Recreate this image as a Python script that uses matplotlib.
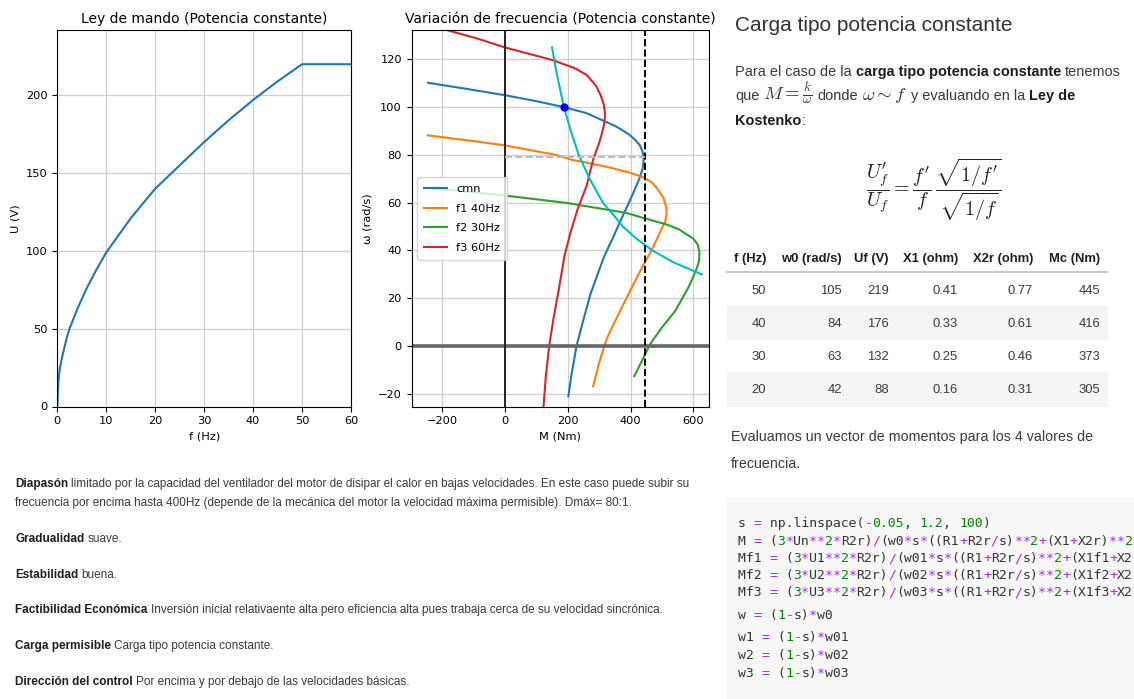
import matplotlib
matplotlib.use("Agg")
import matplotlib.pyplot as plt
from matplotlib.patches import Rectangle
from matplotlib.lines import Line2D
from matplotlib import font_manager

# ---------------- data ----------------
# Ley de mando U(f)
freq_hz = [0, 0.25, 0.5, 1, 2, 2.5, 4, 6, 8, 10, 15, 20, 25, 30, 35, 40, 45, 50, 60]
volt_u = [0, 17, 24, 32, 45, 50, 62, 76, 88, 99, 121, 140, 155, 170, 184, 197, 209, 220, 220]

# Torque-speed curves M(w)
m_cmn = [-245, -120, 0, 100, 188, 260, 319, 350, 372, 395, 414, 430, 438, 442, 441, 438, 428, 415, 395, 370, 343, 316, 273, 252, 228, 212, 202]
w_cmn = [110.2, 107.6, 105, 102.5, 100, 97.5, 94, 92.2, 90.5, 88.6, 86.4, 84, 81.5, 78.7, 76.5, 74, 70, 66, 60, 53, 45, 37.5, 22, 12, 0, -12, -21]

m_f1 = [-246, -120, 0, 159, 212, 319, 400, 441, 468, 488, 505, 514, 515, 510, 499, 483, 465, 441, 406, 361, 324, 300, 281]
w_f1 = [88.2, 86.1, 84, 80.1, 78, 75.2, 72.5, 70.6, 68.5, 65.5, 62, 58, 55, 52, 49, 44.5, 39.5, 34, 25, 13.2, 3, -7, -16.8]

m_f2 = [-250, -120, 0, 197, 388, 441, 515, 555, 579, 600, 614, 620, 618, 611, 598, 584, 542, 499, 462, 436, 412]
w_f2 = [66.2, 64.6, 63, 59.9, 55.7, 53.6, 50.9, 48.8, 46.7, 45, 42.5, 39, 35.5, 32.5, 28.5, 24.4, 14.6, 7.6, 0.7, -6.3, -12.6]

m_f3 = [-186, -90, 0, 149, 223, 260, 290, 305, 315, 319, 316, 309, 300, 281, 260, 232, 210, 190, 172, 154, 141, 130, 123]
w_f3 = [132.3, 128.8, 125, 119.8, 116.3, 113.5, 109, 105, 101, 97, 93, 89, 85, 78, 67, 57.5, 48, 38, 24, 11, 0, -13, -25.2]

# Constant-power load M = k / w
m_load = [150, 165, 188, 210, 235, 270, 312, 345, 376, 418, 470, 537, 627]
w_load = [125, 114, 100, 90, 80, 70, 60, 55, 50, 45, 40, 35, 30]

op_m, op_w = 188, 100
w_ref = 79

series_labels = ["cmn", "f1 40Hz", "f2 30Hz", "f3 60Hz"]

# Table of operating values
table_cols = ["f (Hz)", "w0 (rad/s)", "Uf (V)", "X1 (ohm)", "X2r (ohm)", "Mc (Nm)"]
tab_f = [50, 40, 30, 20]
tab_w0 = [105, 84, 63, 42]
tab_uf = [219, 176, 132, 88]
tab_x1 = [0.41, 0.33, 0.25, 0.16]
tab_x2r = [0.77, 0.61, 0.46, 0.31]
tab_mc = [445, 416, 373, 305]

code_lines = [
    "s = np.linspace(-0.05, 1.2, 100)",
    "M = (3*Un**2*R2r)/(w0*s*((R1+R2r/s)**2+(X1+X2r)**2",
    "Mf1 = (3*U1**2*R2r)/(w01*s*((R1+R2r/s)**2+(X1f1+X2",
    "Mf2 = (3*U2**2*R2r)/(w02*s*((R1+R2r/s)**2+(X1f2+X2",
    "Mf3 = (3*U3**2*R2r)/(w03*s*((R1+R2r/s)**2+(X1f3+X2",
    "w = (1-s)*w0",
    "w1 = (1-s)*w01",
    "w2 = (1-s)*w02",
    "w3 = (1-s)*w03",
]

# ---------------- figure ----------------
W, H = 1134, 699
plt.rcParams["mathtext.fontset"] = "cm"
plt.rcParams["font.size"] = 8.2
fig = plt.figure(figsize=(W / 100, H / 100), dpi=100)
fig.patch.set_facecolor("white")
renderer = fig.canvas.get_renderer()

_installed = {f.name for f in font_manager.fontManager.ttflist}
BODY = "Liberation Sans"
NOTE_FONT = "Liberation Sans Narrow" if "Liberation Sans Narrow" in _installed else BODY
TXT = "#3a3a3a"
BLD = "#1e1e1e"


def fx(x):
    return x / W


def fy(y):
    return 1 - y / H


def rect(x0, y0, x1, y1):
    return [fx(x0), fy(y1), (x1 - x0) / W, (y1 - y0) / H]


def width_of(t):
    return t.get_window_extent(renderer=renderer).width


def space_width(size, family):
    a = fig.text(0, 0, "n n", fontsize=size, family=family)
    b = fig.text(0, 0, "nn", fontsize=size, family=family)
    sp = width_of(a) - width_of(b)
    a.remove()
    b.remove()
    return sp


def rich_line(x, y, segs, size, width=None, family=BODY):
    """Lay out text runs (text, bold, colour[, scale]) one after another on a baseline."""
    arts, pads, scales = [], [], []
    for seg in segs:
        s, bold, col = seg[:3]
        k = seg[3] if len(seg) > 3 else 1.0
        lead = len(s) - len(s.lstrip(" "))
        trail = len(s) - len(s.rstrip(" "))
        t = fig.text(fx(x), fy(y), s.strip(" "), fontsize=size * k, family=family,
                     fontweight="bold" if bold else "normal", color=col,
                     va="baseline", ha="left")
        arts.append(t)
        pads.append((lead, trail))
        scales.append(k)

    def total(sz):
        sp = space_width(sz, family)
        tot = sum(width_of(a) for a in arts)
        tot += sp * sum(l + r for l, r in pads)
        return tot, sp

    sz = size
    if width is not None:
        for _ in range(2):
            tot, _sp = total(sz)
            sz = sz * width / tot
            for a, k in zip(arts, scales):
                a.set_fontsize(sz * k)
    _tot, sp = total(sz)
    cx = x
    for a, (l, r) in zip(arts, pads):
        cx += l * sp
        a.set_position((fx(cx), fy(y)))
        cx += width_of(a) + r * sp
    return sz


# ---------------- left plot: control law ----------------
ax1 = fig.add_axes(rect(57.3, 30, 351, 406.5))
ax1.plot(freq_hz, volt_u, color="tab:blue", lw=1.5)
ax1.set_xlim(0, 60)
ax1.set_ylim(0, 242)
ax1.set_xticks([0, 10, 20, 30, 40, 50, 60])
ax1.set_yticks([0, 50, 100, 150, 200])
ax1.grid(True, color="#cfcfcf", lw=0.9)
ax1.set_title("Ley de mando (Potencia constante)", fontsize=10, pad=5)
ax1.set_xlabel("f (Hz)")
ax1.set_ylabel("U (V)")

# ---------------- right plot: mechanical characteristics ----------------
ax2 = fig.add_axes(rect(411.7, 30, 709, 406.7))
ax2.plot(m_cmn, w_cmn, color="tab:blue", lw=1.5, label=series_labels[0])
ax2.plot(m_f1, w_f1, color="tab:orange", lw=1.5, label=series_labels[1])
ax2.plot(m_f2, w_f2, color="tab:green", lw=1.5, label=series_labels[2])
ax2.plot(m_f3, w_f3, color="tab:red", lw=1.5, label=series_labels[3])
ax2.plot(m_load, w_load, color="c", lw=1.5)
ax2.plot([op_m], [op_w], "o", color="blue", ms=5)
ax2.axhline(0, color="#666666", lw=2.6)
ax2.axvline(0, color="#222222", lw=1.4)
ax2.axvline(tab_mc[0], color="black", ls="--", lw=1.4)
ax2.hlines(w_ref, 0, tab_mc[0], colors="#bdbdbd", linestyles="--", lw=1.4)
ax2.set_xlim(-297, 650)
ax2.set_ylim(-25.4, 132.3)
ax2.set_xticks([-200, 0, 200, 400, 600])
ax2.set_yticks([-20, 0, 20, 40, 60, 80, 100, 120])
ax2.grid(True, color="#cfcfcf", lw=0.9)
ax2.set_title("Variación de frecuencia (Potencia constante)", fontsize=10, pad=5)
ax2.set_xlabel("M (Nm)")
ax2.set_ylabel("ω (rad/s)")
leg = ax2.legend(loc="center left", fontsize=8.2, framealpha=0.8,
                 labelspacing=0.85, borderpad=0.6)
leg.set_zorder(10)

# ---------------- right column: heading and explanation ----------------
rich_line(735, 31, [("Carga tipo potencia constante", False, "#333333")], 17, width=277)
para_size = rich_line(735, 76, [("Para el caso de la ", False, TXT),
                                ("carga tipo potencia constante", True, BLD),
                                (" tenemos", False, TXT)], 10, width=385)
rich_line(735, 100, [("que ", False, TXT),
                     (r"$M = \frac{k}{\omega}$", False, TXT, 1.3),
                     (" donde ", False, TXT),
                     (r"$\omega \sim f$", False, TXT, 1.3),
                     (" y evaluando en la ", False, TXT),
                     ("Ley de", True, BLD)], para_size)
rich_line(735, 125, [("Kostenko", True, BLD), (":", False, TXT)], para_size)

formula = fig.text(fx(934), fy(190),
                   r"$\dfrac{U_f^{\prime}}{U_f} = \dfrac{f^{\prime}}{f}\,\dfrac{\sqrt{1/f^{\prime}}}{\sqrt{1/f}}$",
                   ha="center", va="center", fontsize=14, color="#222222")
formula.set_fontsize(14 * 136 / width_of(formula))

# ---------------- table ----------------
col_right = [766, 842, 889, 958, 1033, 1100]
row_base = [294, 327, 360, 393]
row_top = 272.3
row_h = 33.3
for i in range(4):
    if i % 2 == 1:
        fig.patches.append(Rectangle((fx(727), fy(row_top + (i + 1) * row_h)),
                                     (1107 - 727) / W, row_h / H,
                                     transform=fig.transFigure, color="#f5f5f5", zorder=0))
fig.lines.append(Line2D([fx(727), fx(1107)], [fy(row_top), fy(row_top)],
                        transform=fig.transFigure, color="#c8c8c8", lw=1.5))
for cx, name in zip(col_right, table_cols):
    fig.text(fx(cx), fy(262), name, fontsize=9.4, family=BODY, fontweight="bold",
             color=BLD, ha="right", va="baseline")
rows = list(zip(tab_f, tab_w0, tab_uf, tab_x1, tab_x2r, tab_mc))
for yb, row in zip(row_base, rows):
    for cx, v in zip(col_right, row):
        s = f"{v:.2f}" if isinstance(v, float) else str(v)
        fig.text(fx(cx), fy(yb), s, fontsize=9.4, family=BODY, color=TXT,
                 ha="right", va="baseline")

rich_line(731, 441, [("Evaluamos un vector de momentos para los 4 valores de", False, TXT)], 10, width=361)
rich_line(731, 468, [("frecuencia.", False, TXT)], 10, width=70)

# ---------------- code cell ----------------
fig.patches.append(Rectangle((fx(727), fy(699)), (W - 727) / W, (699 - 497) / H,
                             transform=fig.transFigure, color="#f7f7f7", zorder=0))
CODE_PT = 9.45
char_w = CODE_PT * 100 / 72 * 0.602
code_base = [527, 545, 562, 579, 596, 619, 641, 659, 677]
OP_COL, NUM_COL, ID_COL = "#aa22ff", "#008800", "#333333"


def tokens(line):
    runs = []
    i = 0
    while i < len(line):
        c = line[i]
        prev = line[i - 1] if i > 0 else " "
        if c.isdigit() and not (prev.isalnum() or prev == "_"):
            j = i
            while j < len(line) and (line[j].isdigit() or line[j] == "."):
                j += 1
            runs.append((i, line[i:j], NUM_COL))
            i = j
        elif c in "=*/+-":
            runs.append((i, c, OP_COL))
            i += 1
        else:
            j = i + 1
            while j < len(line) and line[j] not in "=*/+-" and not (
                    line[j].isdigit() and not (line[j - 1].isalnum() or line[j - 1] == "_")):
                j += 1
            runs.append((i, line[i:j], ID_COL))
            i = j
    return runs


for yb, line in zip(code_base, code_lines):
    for idx, chunk, col in tokens(line):
        if chunk.strip():
            fig.text(fx(738 + idx * char_w), fy(yb), chunk, fontsize=CODE_PT,
                     family="DejaVu Sans Mono", color=col, va="baseline", ha="left")

# ---------------- notes under the plots ----------------
notes = [
    (487, [("Diapasón", True, BLD), (" limitado por la capacidad del ventilador del motor de disipar el calor en bajas velocidades. En este caso puede subir su", False, TXT)], 677),
    (506, [("frecuencia por encima hasta 400Hz (depende de la mecánica del motor la velocidad máxima permisible). Dmáx= 80:1.", False, TXT)], 618),
    (542, [("Gradualidad", True, BLD), (" suave.", False, TXT)], 106),
    (578, [("Estabilidad", True, BLD), (" buena.", False, TXT)], 102),
    (613, [("Factibilidad Económica", True, BLD), (" Inversión inicial relativaente alta pero eficiencia alta pues trabaja cerca de su velocidad sincrónica.", False, TXT)], 655),
    (649, [("Carga permisible", True, BLD), (" Carga tipo potencia constante.", False, TXT)], 258),
    (685, [("Dirección del control", True, BLD), (" Por encima y por debajo de las velocidades básicas.", False, TXT)], 394),
]
note_size = None
for yb, segs, wd in notes:
    if note_size is None:
        note_size = rich_line(15, yb, segs, 9, width=wd, family=NOTE_FONT)
    else:
        rich_line(15, yb, segs, note_size, family=NOTE_FONT)

fig.savefig("out.png", dpi=100, facecolor="white")
